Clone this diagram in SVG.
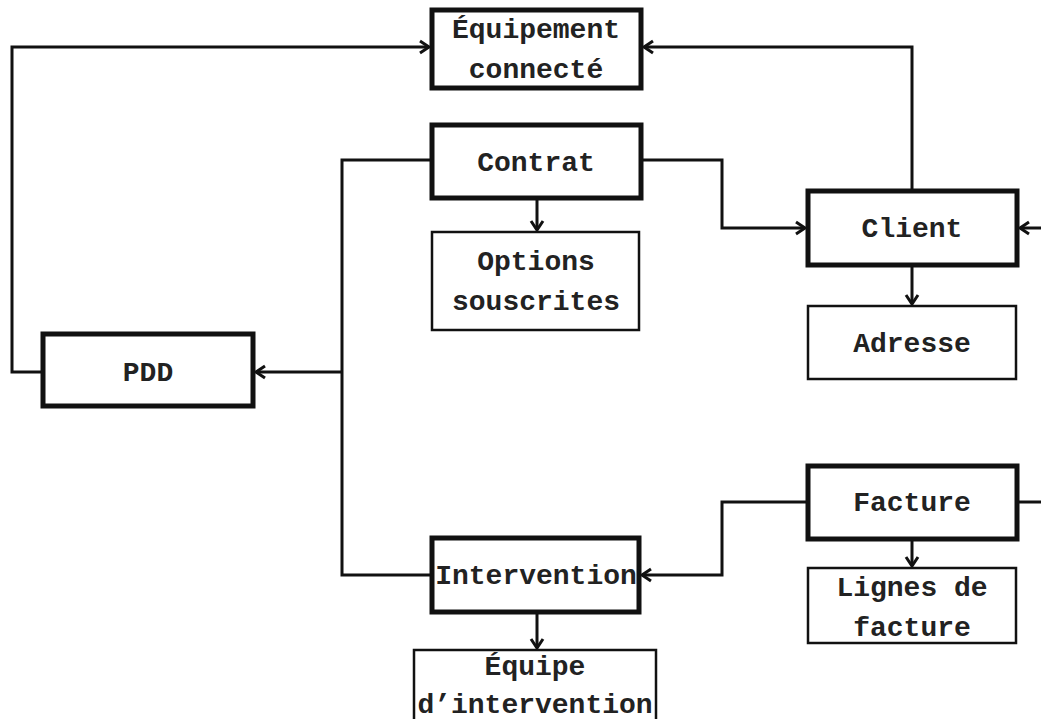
<svg xmlns="http://www.w3.org/2000/svg" width="1041" height="719" viewBox="0 0 1041 719">
<defs>
<marker id="arr" markerUnits="userSpaceOnUse" markerWidth="16" markerHeight="16" refX="13" refY="8" orient="auto">
<path d="M4,2 L13,8 L4,14" fill="none" stroke="#111" stroke-width="3"/>
</marker>
<style>
.thick{fill:#fff;stroke:#111;stroke-width:5}
.thin{fill:#fff;stroke:#111;stroke-width:2.5}
.t{font-family:"Liberation Mono","Courier New",monospace;font-weight:bold;font-size:28px;fill:#222;text-anchor:middle}
.c{fill:none;stroke:#111;stroke-width:3}
</style>
</defs>
<rect width="1041" height="719" fill="#fff"/>
<g id="connectors">
<path class="c" d="M43,372 H12 V47 H429" marker-end="url(#arr)"/>
<path class="c" d="M912,191 V47 H644" marker-end="url(#arr)"/>
<path class="c" d="M641,160 H722 V228 H805" marker-end="url(#arr)"/>
<path class="c" d="M537,198 V230" marker-end="url(#arr)"/>
<path class="c" d="M432,160 H342 V575 H432"/>
<path class="c" d="M342,372 H256" marker-end="url(#arr)"/>
<path class="c" d="M912,265 V304" marker-end="url(#arr)"/>
<path class="c" d="M1041,228 H1020" marker-end="url(#arr)"/>
<path class="c" d="M1017,502 H1041"/>
<path class="c" d="M808,502 H722 V575 H642" marker-end="url(#arr)"/>
<path class="c" d="M912,539 V566" marker-end="url(#arr)"/>
<path class="c" d="M537,612 V648" marker-end="url(#arr)"/>
</g>
<g id="equipement"><rect class="thick" x="432" y="10" width="209" height="78"/><text class="t" x="536" y="38">Équipement</text><text class="t" x="536" y="78">connecté</text></g>
<g id="contrat"><rect class="thick" x="432" y="125" width="209" height="73"/><text class="t" x="536" y="171">Contrat</text></g>
<g id="options"><rect class="thin" x="432" y="232" width="207" height="98"/><text class="t" x="536" y="270">Options</text><text class="t" x="536" y="310">souscrites</text></g>
<g id="client"><rect class="thick" x="808" y="191" width="209" height="74"/><text class="t" x="912" y="237">Client</text></g>
<g id="adresse"><rect class="thin" x="808" y="306" width="208" height="73"/><text class="t" x="912" y="352">Adresse</text></g>
<g id="pdd"><rect class="thick" x="43" y="334" width="210" height="72"/><text class="t" x="148" y="381">PDD</text></g>
<g id="facture"><rect class="thick" x="808" y="466" width="209" height="73"/><text class="t" x="912" y="511">Facture</text></g>
<g id="lignes"><rect class="thin" x="808" y="568" width="208" height="75"/><text class="t" x="912" y="596">Lignes de</text><text class="t" x="912" y="636">facture</text></g>
<g id="intervention"><rect class="thick" x="432" y="538" width="207" height="74"/><text class="t" x="536" y="584">Intervention</text></g>
<g id="equipe"><rect class="thin" x="414" y="650" width="242" height="75"/><text class="t" x="535" y="675">Équipe</text><text class="t" x="535" y="713">d’intervention</text></g>
</svg>
